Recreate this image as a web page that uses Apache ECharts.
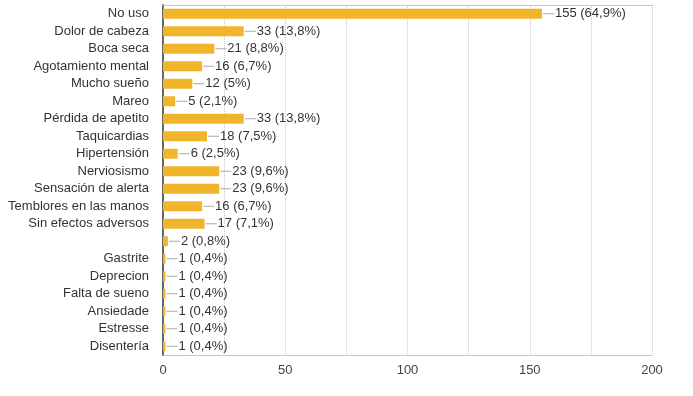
<!DOCTYPE html>
<html>
<head>
<meta charset="utf-8">
<script src="https://cdn.jsdelivr.net/npm/echarts@6/dist/echarts.min.js"></script>
<style>html,body{margin:0;padding:0;background:#fff}#c{width:693px;height:396px}</style>
</head>
<body>
<div id="c"></div>
<script>
const categories = ['No uso','Dolor de cabeza','Boca seca','Agotamiento mental','Mucho sueño','Mareo','Pérdida de apetito','Taquicardias','Hipertensión','Nerviosismo','Sensación de alerta','Temblores en las manos','Sin efectos adversos','','Gastrite','Deprecion','Falta de sueno','Ansiedade','Estresse','Disentería'];
const values = [155,33,21,16,12,5,33,18,6,23,23,16,17,2,1,1,1,1,1,1];
const percents = ['64,9%','13,8%','8,8%','6,7%','5%','2,1%','13,8%','7,5%','2,5%','9,6%','9,6%','6,7%','7,1%','0,8%','0,4%','0,4%','0,4%','0,4%','0,4%','0,4%'];
const xTicks = [0,50,100,150,200];

const chart = echarts.init(document.getElementById('c'));
const font = 'Liberation Sans, Arial, sans-serif';
chart.setOption({
  animation: false,
  grid: {left: 163, right: 41, top: 5, bottom: 41},
  xAxis: [{
    type: 'value', min: 0, max: 200, interval: 25, position: 'bottom',
    axisLine: {show: true, lineStyle: {color: '#bbb', type: 'dotted'}},
    axisTick: {show: false},
    axisLabel: {color: '#444', fontFamily: font, fontSize: 13, margin: 9,
      formatter: v => xTicks.indexOf(v) >= 0 ? String(v) : ''},
    splitLine: {show: true, lineStyle: {color: '#c8c8c8', type: 'dotted'}}
  }, {
    type: 'value', min: 0, max: 200, interval: 25, position: 'top',
    axisLine: {show: true, lineStyle: {color: '#bbb', type: 'dotted'}},
    axisTick: {show: false}, axisLabel: {show: false}, splitLine: {show: false}
  }],
  yAxis: {
    type: 'category', data: categories, inverse: true,
    axisLine: {show: true, lineStyle: {color: '#666', width: 2}},
    axisTick: {show: false},
    axisLabel: {color: '#333', fontFamily: font, fontSize: 13, margin: 14},
    splitLine: {show: false}
  },
  series: [{
    type: 'bar', data: values, barWidth: 10, xAxisIndex: 0,
    itemStyle: {color: '#F0B52B'},
    label: {
      show: true, position: 'right', distance: 1,
      formatter: p => '{l|}{v|' + values[p.dataIndex] + ' (' + percents[p.dataIndex] + ')}',
      rich: {
        l: {width: 11, height: 1, backgroundColor: '#aaa'},
        v: {color: '#333', fontFamily: font, fontSize: 13, padding: [0,0,0,1]}
      }
    }
  }]
});
</script>
</body>
</html>
